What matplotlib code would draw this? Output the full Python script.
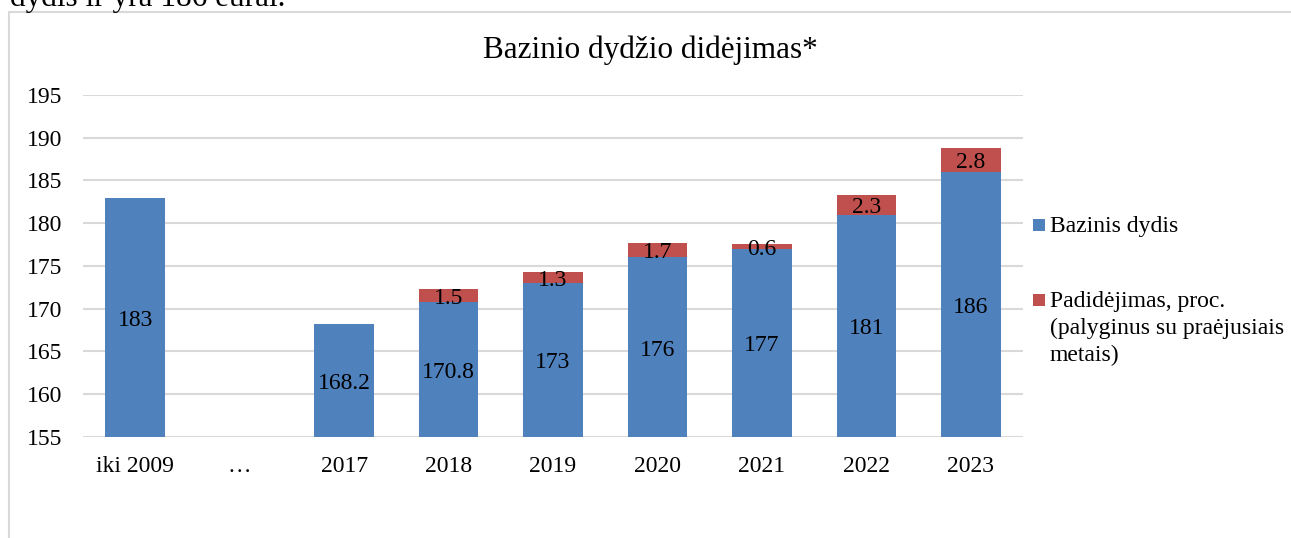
import numpy as np
import matplotlib
matplotlib.use("Agg")
import matplotlib.pyplot as plt
from matplotlib.patches import Rectangle

plt.rcParams['font.family'] = ['Liberation Serif', 'DejaVu Serif']

categories = ["iki 2009", "…", "2017", "2018", "2019", "2020", "2021", "2022", "2023"]
base_values = [183, np.nan, 168.2, 170.8, 173, 176, 177, 181, 186]
increase_values = [np.nan, np.nan, np.nan, 1.5, 1.3, 1.7, 0.6, 2.3, 2.8]
base_labels = ["183", "", "168.2", "170.8", "173", "176", "177", "181", "186"]
increase_labels = ["", "", "", "1.5", "1.3", "1.7", "0.6", "2.3", "2.8"]
yticks = [155, 160, 165, 170, 175, 180, 185, 190, 195]
legend_labels = ["Bazinis dydis", "Padidėjimas, proc.\n(palyginus su praėjusiais\nmetais)"]

W, H = 1291, 538
fig = plt.figure(figsize=(W / 100, H / 100), dpi=100)
ax = fig.add_axes([83 / W, 1 - 437 / H, (1023 - 83) / W, (437 - 95) / H])

blue = "#4F81BD"
red = "#C0504D"
x = np.arange(len(categories))
bw = 0.57
y0 = 155
base = np.array(base_values, dtype=float)
inc = np.array(increase_values, dtype=float)

ax.bar(x, base - y0, bottom=y0, width=bw, color=blue, zorder=3)
ax.bar(x, inc, bottom=base, width=bw, color=red, zorder=3)

fs = 17
for i in range(len(categories)):
    if not np.isnan(base[i]):
        ax.annotate(base_labels[i], (x[i], (y0 + base[i]) / 2), xytext=(0, -2),
                    textcoords='offset points', ha='center', va='center',
                    fontsize=fs, color='black', zorder=4)
    if not np.isnan(inc[i]):
        ax.annotate(increase_labels[i], (x[i], base[i] + inc[i] / 2), xytext=(0, -2),
                    textcoords='offset points', ha='center', va='center',
                    fontsize=fs, color='black', zorder=4)

ax.set_xlim(-0.5, len(categories) - 0.5)
ax.set_ylim(155, 195)
ax.set_yticks(yticks)
ax.set_yticklabels([str(t) for t in yticks], fontsize=fs)
ax.set_xticks(x)
ax.set_xticklabels(categories, fontsize=fs)
ax.tick_params(axis='both', length=0)
ax.tick_params(axis='y', pad=15)
ax.tick_params(axis='x', pad=13.5)
for s in ax.spines.values():
    s.set_visible(False)
ax.grid(axis='y', color='#d9d9d9', linewidth=1.5, zorder=0)
ax.set_axisbelow(True)

fig.text(650 / W, 1 - 50 / H, "Bazinio dydžio didėjimas*", ha='center', va='center', fontsize=22.5)

# frame
fig.add_artist(Rectangle((9 / W, -0.1), 1.2, (1 - 12.5 / H) + 0.1, transform=fig.transFigure,
                         fill=False, edgecolor='#d9d9d9', linewidth=1.5))

# cut-off text above
fig.text(10 / W, 1 - 6 / H, "dydis ir yra 186 eurai.", ha='left', va='baseline', fontsize=22.5)

# manual legend
sq = 12
for color, label, yc in [(blue, legend_labels[0], 225), (red, legend_labels[1], 300)]:
    fig.add_artist(Rectangle((1033 / W, 1 - (yc + sq / 2) / H), sq / W, sq / H,
                             transform=fig.transFigure, facecolor=color, edgecolor='none'))
    fig.text(1050 / W, 1 - (yc - 9) / H, label, ha='left', va='top', fontsize=fs,
             linespacing=1.35)

fig.savefig("out.png", dpi=100)
